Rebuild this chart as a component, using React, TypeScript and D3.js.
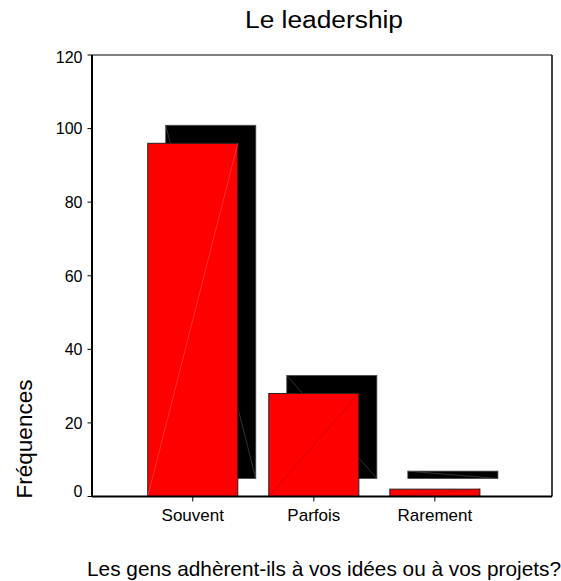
import React from "react";
import * as d3 from "d3";

const categories = ["Souvent", "Parfois", "Rarement"];
const frequencies = [96, 28, 2];
const yTicks = [0, 20, 40, 60, 80, 100, 120];
const title = "Le leadership";
const xTitle = "Les gens adhèrent-ils à vos idées ou à vos projets?";
const yTitle = "Fréquences";

const W = 561;
const H = 581;
const left = 92;
const right = 552;
const top = 55;
const bottom = 496.5;
const depth = 18;
const font = "'Liberation Sans', Arial, sans-serif";

export default function App() {
  const x = d3
    .scaleBand<string>()
    .domain(categories)
    .range([left, right])
    .paddingInner(0.256)
    .paddingOuter(0.528)
    .align(0.436);
  const y = d3.scaleLinear().domain([0, 120]).range([bottom, top]);
  const bw = x.bandwidth();

  return (
    <svg
      width={W}
      height={H}
      style={{ position: "absolute", left: 0, top: 0, background: "#fff" }}
    >
      <text
        x={324}
        y={28}
        textAnchor="middle"
        fontFamily={font}
        fontSize={23.5}
        textLength={158}
        lengthAdjust="spacingAndGlyphs"
        fill="#000"
      >
        {title}
      </text>

      {/* frame */}
      <line x1={left} x2={right} y1={top} y2={top} stroke="#000" strokeWidth={1} />
      <line x1={right} x2={right} y1={top} y2={bottom} stroke="#000" strokeWidth={1.5} />

      {/* bars */}
      {categories.map((c, i) => {
        const x0 = x(c)!;
        const yt = y(frequencies[i]);
        const h = bottom - yt;
        return (
          <g key={c}>
            <rect
              x={x0 + depth}
              y={yt - depth}
              width={bw}
              height={h}
              fill="#000"
              stroke="#444"
              strokeWidth={0.8}
            />
            <line
              x1={x0 + depth}
              y1={yt - depth}
              x2={x0 + depth + bw}
              y2={bottom - depth}
              stroke="#555"
              strokeWidth={0.6}
            />
            <rect
              x={x0}
              y={yt}
              width={bw}
              height={h}
              fill="#ff0000"
              stroke="#222"
              strokeWidth={1}
            />
            <line
              x1={x0}
              y1={bottom}
              x2={x0 + bw}
              y2={yt}
              stroke={i === 0 ? "#ff5050" : "#c00000"}
              strokeWidth={0.6}
            />
          </g>
        );
      })}

      {/* y axis */}
      <line x1={left} x2={left} y1={top} y2={bottom} stroke="#000" strokeWidth={2} />
      {yTicks.map((t, i) => {
        const nudge = i === 0 ? -5 : i === yTicks.length - 1 ? 2 : 0;
        return (
          <g key={t}>
            <line x1={left - 4.5} x2={left} y1={y(t)} y2={y(t)} stroke="#000" strokeWidth={1} />
            <text
              x={82.5}
              y={y(t) + 5.8 + nudge}
              textAnchor="end"
              fontFamily={font}
              fontSize={16}
              fill="#000"
            >
              {t}
            </text>
          </g>
        );
      })}

      {/* x axis */}
      <line x1={left} x2={right} y1={bottom} y2={bottom} stroke="#000" strokeWidth={2} />
      {categories.map((c) => {
        const cx = x(c)! + bw / 2;
        return (
          <g key={c}>
            <line x1={cx} x2={cx} y1={bottom} y2={bottom + 5} stroke="#000" strokeWidth={1} />
            <text x={cx} y={521} textAnchor="middle" fontFamily={font} fontSize={17} fill="#000">
              {c}
            </text>
          </g>
        );
      })}

      <text x={324} y={576} textAnchor="middle" fontFamily={font} fontSize={20.8} fill="#000">
        {xTitle}
      </text>
      <text
        transform={`translate(32,439) rotate(-90)`}
        textAnchor="middle"
        fontFamily={font}
        fontSize={22.5}
        fill="#000"
      >
        {yTitle}
      </text>
    </svg>
  );
}
